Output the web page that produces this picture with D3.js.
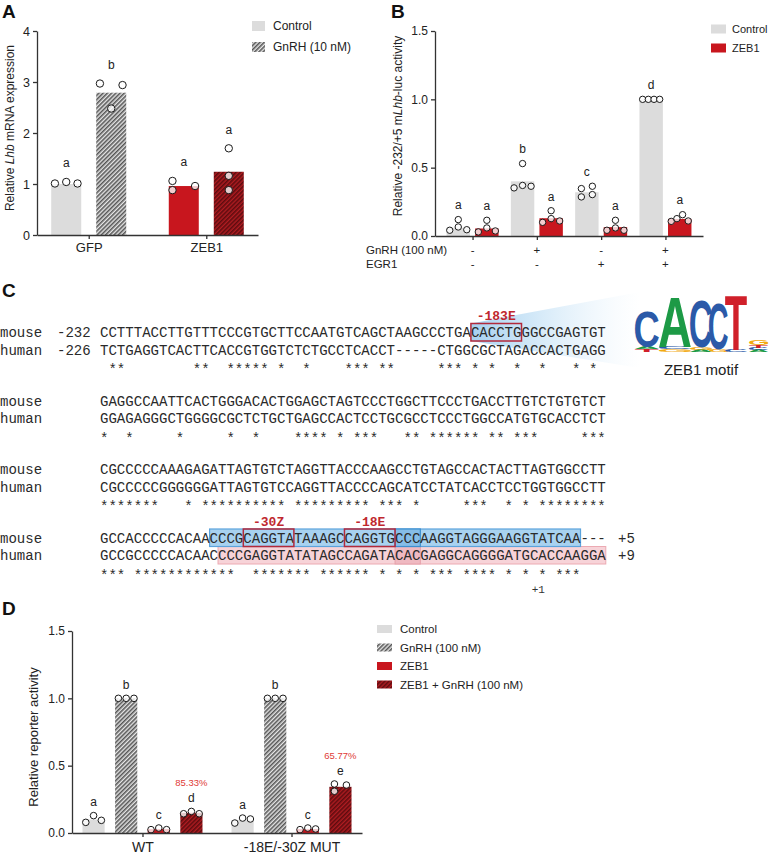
<!DOCTYPE html>
<html><head><meta charset="utf-8">
<script src="https://cdn.jsdelivr.net/npm/d3@7"></script>
<style>body{margin:0;background:#fff}svg{display:block}</style>
</head><body>
<svg id="fig" width="770" height="855" xmlns="http://www.w3.org/2000/svg"></svg>
<script>
// ================= DATA =================
// Panel A
const aGroups = ["GFP", "ZEB1"];
const aSeries = ["Control", "GnRH (10 nM)"];
const aMeans = [[1.00, 2.79], [0.96, 1.24]];
const aPoints = [
  [[1.01, 1.04, 1.01], [2.97, 2.48, 2.94]],
  [[1.06, 0.88, 0.96], [1.70, 1.16, 0.88]]
];
const aLetters = [["a", "b"], ["a", "a"]];
const aTicks = [0, 1, 2, 3, 4];

// Panel B
const bGroups = ["g1", "g2", "g3", "g4"];
const bSeries = ["Control", "ZEB1"];
const bGnRH = ["-", "+", "-", "+"];
const bEGR1 = ["-", "-", "+", "+"];
const bMeans = [[0.06, 0.055], [0.40, 0.13], [0.32, 0.065], [1.00, 0.125]];
const bPoints = [
  [[0.042, 0.12, 0.066, 0.046], [0.03, 0.115, 0.059, 0.037]],
  [[0.352, 0.53, 0.37, 0.364], [0.10, 0.185, 0.127, 0.11]],
  [[0.347, 0.286, 0.364, 0.303], [0.042, 0.115, 0.059, 0.042]],
  [[1.0, 1.0, 1.0, 1.0], [0.107, 0.127, 0.156, 0.11]]
];
const bLetters = [["a", "a"], ["b", "a"], ["c", "a"], ["d", "a"]];
const bTicks = [0, 0.5, 1.0, 1.5];

// Panel C
const seqMouse = [
  "CCTTTACCTTGTTTCCCGTGCTTCCAATGTCAGCTAAGCCCTGACACCTGGGCCGAGTGT",
  "GAGGCCAATTCACTGGGACACTGGAGCTAGTCCCTGGCTTCCCTGACCTTGTCTGTGTCT",
  "CGCCCCCAAAGAGATTAGTGTCTAGGTTACCCAAGCCTGTAGCCACTACTTAGTGGCCTT",
  "GCCACCCCCACAACCCGCAGGTATAAAGCCAGGTGCCCAAGGTAGGGAAGGTATCAA---"
];
const seqHuman = [
  "TCTGAGGTCACTTCACCGTGGTCTCTGCCTCACCT-----CTGGCGCTAGACCACTGAGG",
  "GGAGAGGGCTGGGGCGCTCTGCTGAGCCACTCCTGCGCCTCCCTGGCCATGTGCACCTCT",
  "CGCCCCCGGGGGGATTAGTGTCCAGGTTACCCCAGCATCCTATCACCTCCTGGTGGCCTT",
  "GCCGCCCCCACAACCCCGAGGTATATAGCCAGATACACGAGGCAGGGGATGCACCAAGGA"
];
const seqNames = ["mouse", "human"];
const seqStart = ["-232", "-226"];
const seqEnd = ["+5", "+9"];
const sites = [
  { label: "-183E", block: 0, start: 44, len: 6 },
  { label: "-30Z", block: 3, start: 17, len: 6 },
  { label: "-18E", block: 3, start: 29, len: 6 }
];
const mouseRegion = { block: 3, start: 13, end: 57 };
const humanRegion = { block: 3, start: 14, end: 60 };
const overlapRegion = { block: 3, start: 35, end: 38 };
const tssMark = { label: "+1", block: 3, col: 52 };
// ZEB1 motif logo: stacks bottom->top, [letter, bits]
const logoData = [
  [["T", 0.10], ["A", 0.07], ["C", 1.25]],
  [["G", 0.10], ["C", 0.07], ["A", 1.78]],
  [["A", 0.07], ["G", 0.07], ["C", 1.70]],
  [["G", 0.07], ["C", 1.64]],
  [["C", 0.07], ["T", 1.96]],
  [["A", 0.07], ["C", 0.07], ["T", 0.10], ["G", 0.20]]
];
const logoTitle = "ZEB1 motif";

// Panel D
const dGroups = ["WT", "-18E/-30Z MUT"];
const dSeries = ["Control", "GnRH (100 nM)", "ZEB1", "ZEB1 + GnRH (100 nM)"];
const dMeans = [[0.10, 1.00, 0.03, 0.15], [0.095, 1.00, 0.03, 0.343]];
const dPoints = [
  [[0.079, 0.129, 0.094], [1.0, 1.0, 1.0], [0.025, 0.037, 0.025], [0.143, 0.16, 0.143]],
  [[0.074, 0.111, 0.104], [1.0, 1.0, 1.0], [0.025, 0.037, 0.03], [0.364, 0.31, 0.356]]
];
const dLetters = [["a", "b", "c", "d"], ["a", "b", "c", "e"]];
const dPercent = ["85.33%", "65.77%"];
const dTicks = [0, 0.5, 1.0, 1.5];

// ================= STYLE =================
const SANS = "'Liberation Sans', Arial, Helvetica, sans-serif";
const MONO = "'Liberation Mono', 'Courier New', monospace";
const GRAY = "#dcdcdc", RED = "#c8161e";
const AX = "#333";

const svg = d3.select("#fig");
const defs = svg.append("defs");
function hatch(id, bg, fg, w) {
  const p = defs.append("pattern").attr("id", id).attr("patternUnits", "userSpaceOnUse")
    .attr("width", 3).attr("height", 3).attr("patternTransform", "rotate(45)");
  p.append("rect").attr("width", 3).attr("height", 3).attr("fill", bg);
  p.append("line").attr("x1", 0.8).attr("y1", -1).attr("x2", 0.8).attr("y2", 4)
    .attr("stroke", fg).attr("stroke-width", w);
}
hatch("hGray", "#e6e6e6", "#4a4a4a", 1.45);
hatch("hRed", "#b01c21", "#560a0d", 1.45);

function styleAxis(g, fs) {
  g.attr("font-family", SANS).attr("font-size", fs);
  g.select(".domain").attr("stroke", AX).attr("stroke-width", 1.3);
  g.selectAll(".tick line").attr("stroke", AX).attr("stroke-width", 1.3);
  g.selectAll(".tick text").attr("fill", "#222");
}

function swarmOffsets(vals, y, r, bw, cap, thrK) {
  const thr = 2 * r * thrK;
  const py = vals.map(v => y(v));
  const n = vals.length;
  const idx = d3.range(n).sort((a, b) => py[a] - py[b]);
  const clusters = []; let cur = [idx[0]];
  for (let k = 1; k < n; k++) {
    if (py[idx[k]] - py[idx[k - 1]] < thr) cur.push(idx[k]);
    else { clusters.push(cur); cur = [idx[k]]; }
  }
  clusters.push(cur);
  const off = new Array(n).fill(0);
  clusters.forEach(c => {
    const mem = c.slice().sort((a, b) => a - b);
    const cols = [], colOf = {};
    mem.forEach(i => {
      let ci = 0;
      while (true) {
        if (!cols[ci]) { cols[ci] = [i]; break; }
        if (cols[ci].every(j => Math.abs(py[j] - py[i]) >= thr)) { cols[ci].push(i); break; }
        ci++;
      }
      colOf[i] = ci;
    });
    const m = cols.length;
    const sp = m > 1 ? Math.min(cap, (bw - 2 * r) / (m - 1)) : 0;
    mem.forEach(i => off[i] = (colOf[i] - (m - 1) / 2) * sp);
  });
  return off;
}

function drawBars(g, cfg) {
  const { groups, series, means, points, letters, x, xin, y, fill, r, cap, thrK, letterGap } = cfg;
  const bw = xin.bandwidth();
  const y0 = y(0);
  groups.forEach((grp, gi) => {
    series.forEach((s, si) => {
      const bx = x(grp) + xin(s);
      const m = means[gi][si];
      g.append("rect").attr("x", bx).attr("y", y(m)).attr("width", bw)
        .attr("height", y0 - y(m)).attr("fill", fill(gi, si));
    });
  });
  groups.forEach((grp, gi) => {
    series.forEach((s, si) => {
      const bx = x(grp) + xin(s);
      const vals = points[gi][si];
      const offs = swarmOffsets(vals, y, r, bw, cap, thrK);
      g.selectAll(null).data(vals).enter().append("circle")
        .attr("cx", (d, i) => bx + bw / 2 + offs[i]).attr("cy", d => y(d)).attr("r", r)
        .attr("fill", "#fff").attr("fill-opacity", 0.78)
        .attr("stroke", "#1a1a1a").attr("stroke-width", 1);
      const top = Math.min(y(d3.max(vals)) - r, y(means[gi][si]));
      g.append("text").attr("x", bx + bw / 2).attr("y", top - letterGap)
        .attr("text-anchor", "middle").attr("font-family", SANS).attr("font-size", 12)
        .attr("fill", "#222").text(letters[gi][si]);
    });
  });
}

function panelLetter(t, x, y) {
  svg.append("text").attr("x", x).attr("y", y).attr("font-family", SANS)
    .attr("font-weight", "bold").attr("font-size", 19).attr("fill", "#111").text(t);
}

// ================= PANEL A =================
panelLetter("A", 2, 18);
const gA = svg.append("g");
const yA = d3.scaleLinear().domain([0, 4]).range([235, 31]);
const xA = d3.scalePoint().domain(aGroups).range([37, 258]).padding(0.44);
const xAin = d3.scaleBand().domain(aSeries).range([-37.5, 37.5]).paddingInner(1 / 3);
drawBars(gA, {
  groups: aGroups, series: aSeries, means: aMeans, points: aPoints, letters: aLetters,
  x: xA, xin: xAin, y: yA, r: 3.7, cap: 30, thrK: 1.08, letterGap: 11,
  fill: (gi, si) => gi === 0 ? (si === 0 ? GRAY : "url(#hGray)") : (si === 0 ? RED : "url(#hRed)")
});
gA.append("g").attr("transform", "translate(37,0)")
  .call(d3.axisLeft(yA).tickValues(aTicks).tickFormat(d3.format("d")).tickSize(4).tickPadding(3).tickSizeOuter(0))
  .call(g => styleAxis(g, 12.5));
gA.append("g").attr("transform", "translate(0,235)")
  .call(d3.axisBottom(xA).tickSize(4).tickPadding(4).tickSizeOuter(0))
  .call(g => styleAxis(g, 13));
{
  const t = gA.append("text").attr("transform", "translate(14,128) rotate(-90)")
    .attr("text-anchor", "middle").attr("font-family", SANS).attr("font-size", 12).attr("fill", "#222");
  t.append("tspan").text("Relative ");
  t.append("tspan").attr("font-style", "italic").text("Lhb");
  t.append("tspan").text(" mRNA expression");
}
// legend A
aSeries.forEach((s, i) => {
  const yy = 26 + i * 21;
  gA.append("rect").attr("x", 252).attr("y", yy - 5).attr("width", 13).attr("height", 10)
    .attr("fill", i === 0 ? GRAY : "url(#hGray)");
  gA.append("text").attr("x", 273).attr("y", yy + 4).attr("font-family", SANS).attr("font-size", 12)
    .attr("fill", "#222").text(s);
});

// ================= PANEL B =================
panelLetter("B", 391, 18);
const gB = svg.append("g");
const yB = d3.scaleLinear().domain([0, 1.5]).range([236, 31]);
const xB = d3.scalePoint().domain(bGroups).range([435, 703]).padding(0.584);
const xBin = d3.scaleBand().domain(bSeries).range([-26, 26]).paddingInner(0.18);
drawBars(gB, {
  groups: bGroups, series: bSeries, means: bMeans, points: bPoints, letters: bLetters,
  x: xB, xin: xBin, y: yB, r: 3.2, cap: 11, thrK: 1.06, letterGap: 7,
  fill: (gi, si) => si === 0 ? GRAY : RED
});
gB.append("g").attr("transform", "translate(435,0)")
  .call(d3.axisLeft(yB).tickValues(bTicks).tickFormat(d3.format(".1f")).tickSize(4).tickPadding(3).tickSizeOuter(0))
  .call(g => styleAxis(g, 12));
gB.append("g").attr("transform", "translate(0,236)")
  .call(d3.axisBottom(xB).tickSize(4).tickFormat("").tickSizeOuter(0))
  .call(g => styleAxis(g, 12));
{
  const t = gB.append("text").attr("transform", "translate(402,126) rotate(-90)")
    .attr("text-anchor", "middle").attr("font-family", SANS).attr("font-size", 12).attr("fill", "#222");
  t.append("tspan").text("Relative -232/+5 m");
  t.append("tspan").attr("font-style", "italic").text("Lhb");
  t.append("tspan").text("-luc activity");
}
[["GnRH (100 nM)", bGnRH, 254], ["EGR1", bEGR1, 268]].forEach(([lab, arr, yy]) => {
  gB.append("text").attr("x", 366).attr("y", yy).attr("font-family", SANS).attr("font-size", 11.5)
    .attr("fill", "#222").text(lab);
  bGroups.forEach((g, i) => gB.append("text").attr("x", xB(g)).attr("y", yy)
    .attr("text-anchor", "middle").attr("font-family", SANS).attr("font-size", 11.5)
    .attr("fill", "#222").text(arr[i]));
});
bSeries.forEach((s, i) => {
  const yy = 29 + i * 19;
  gB.append("rect").attr("x", 711).attr("y", yy - 4.5).attr("width", 15).attr("height", 9)
    .attr("fill", i === 0 ? GRAY : RED);
  gB.append("text").attr("x", 732).attr("y", yy + 4).attr("font-family", SANS).attr("font-size", 11)
    .attr("fill", "#222").text(s);
});

// ================= PANEL C =================
panelLetter("C", 2, 297);
const gC = svg.append("g");
const fs = 14.05, cw = fs * 0.6, X0 = 100;
const blockBase = b => 337 + b * 68.5;   // mouse row baseline
const LS = 17.5;
const colX = c => X0 + c * cw;

// fan + motif highlight
const grad = defs.append("linearGradient").attr("id", "fanGrad").attr("x1", 0).attr("x2", 1).attr("y1", 0).attr("y2", 0);
grad.append("stop").attr("offset", 0).attr("stop-color", "#8fc4ec").attr("stop-opacity", 0.8);
grad.append("stop").attr("offset", 0.35).attr("stop-color", "#a9d3f1").attr("stop-opacity", 0.55);
grad.append("stop").attr("offset", 1).attr("stop-color", "#d6ebfa").attr("stop-opacity", 0);
{
  const s = sites[0];
  const b0 = blockBase(s.block);
  const xl = colX(s.start), yt = b0 - 13.5, yb = b0 + 4;
  gC.append("polygon").attr("points", [[xl, yt], [640, 292], [640, 368], [xl, yb]].map(p => p.join(",")).join(" "))
    .attr("fill", "url(#fanGrad)");
}
// region highlights (block 3)
{
  const bm = blockBase(mouseRegion.block), bh = bm + LS;
  gC.append("rect").attr("x", colX(humanRegion.start)).attr("y", bh - 13.5)
    .attr("width", (humanRegion.end - humanRegion.start) * cw).attr("height", LS)
    .attr("fill", "#f7d3d8").attr("stroke", "#ecaab3").attr("stroke-width", 1);
  gC.append("rect").attr("x", colX(overlapRegion.start)).attr("y", bh - 13.5)
    .attr("width", (overlapRegion.end - overlapRegion.start) * cw).attr("height", LS)
    .attr("fill", "#efb9c1").attr("stroke", "#e6a0aa").attr("stroke-width", 1);
  gC.append("rect").attr("x", colX(mouseRegion.start)).attr("y", bm - 13.5)
    .attr("width", (mouseRegion.end - mouseRegion.start) * cw).attr("height", LS)
    .attr("fill", "#a8d2f0").attr("stroke", "#5ba3dc").attr("stroke-width", 1.2);
  gC.append("rect").attr("x", colX(overlapRegion.start)).attr("y", bm - 13.5)
    .attr("width", (overlapRegion.end - overlapRegion.start) * cw).attr("height", LS)
    .attr("fill", "#86bde8").attr("stroke", "#3d8fd0").attr("stroke-width", 1.2);
}
// sequence text
seqMouse.forEach((ms, b) => {
  const hs = seqHuman[b];
  const bm = blockBase(b);
  const stars = Array.from(ms).map((c, i) => (c !== "-" && c === hs[i]) ? "*" : " ").join("");
  [[ms, bm, 0], [hs, bm + LS, 1]].forEach(([s, yy, k]) => {
    gC.append("text").attr("x", 0).attr("y", yy).attr("font-family", MONO).attr("font-size", fs)
      .attr("fill", "#2a2a2a").text(seqNames[k]);
    if (b === 0) gC.append("text").attr("x", 57).attr("y", yy).attr("font-family", MONO).attr("font-size", fs)
      .attr("fill", "#2a2a2a").text(seqStart[k]);
    if (b === seqMouse.length - 1) gC.append("text").attr("x", 618).attr("y", yy).attr("font-family", MONO)
      .attr("font-size", fs).attr("fill", "#2a2a2a").text(seqEnd[k]);
    gC.append("text").attr("x", X0).attr("y", yy).attr("font-family", MONO).attr("font-size", fs)
      .attr("fill", "#2a2a2a").style("white-space", "pre").attr("xml:space", "preserve").text(s);
  });
  gC.append("text").attr("x", X0).attr("y", bm + 2 * LS + 2).attr("font-family", MONO).attr("font-size", fs)
    .attr("fill", "#2a2a2a").style("white-space", "pre").attr("xml:space", "preserve").text(stars);
});
// red site boxes + labels
sites.forEach(s => {
  const bm = blockBase(s.block);
  gC.append("rect").attr("x", colX(s.start)).attr("y", bm - 13.5).attr("width", s.len * cw).attr("height", LS)
    .attr("fill", "none").attr("stroke", "#b3293b").attr("stroke-width", 1.5);
  gC.append("text").attr("x", colX(s.start) + s.len * cw / 2).attr("y", bm - 17)
    .attr("text-anchor", "middle").attr("font-family", MONO).attr("font-weight", "bold")
    .attr("font-size", 13).attr("fill", "#c0282e").text(s.label);
});
gC.append("text").attr("x", colX(tssMark.col)).attr("y", blockBase(tssMark.block) + 2 * LS + 15)
  .attr("text-anchor", "middle").attr("font-family", MONO).attr("font-size", 11)
  .attr("fill", "#333").text(tssMark.label);

// logo
{
  const ctx = document.createElement("canvas").getContext("2d");
  ctx.font = "bold 100px 'Liberation Sans'";
  const ink = ch => {
    const m = ctx.measureText(ch);
    return { l: m.actualBoundingBoxLeft, r: m.actualBoundingBoxRight, a: m.actualBoundingBoxAscent, d: m.actualBoundingBoxDescent };
  };
  const colors = { A: "#1d9a46", C: "#2b5aa8", G: "#f2aa0f", T: "#d0202a" };
  const hScale = d3.scaleLinear().domain([0, 2]).range([0, 56]);
  const colEdges = [[635, 659], [659, 691], [690, 712], [709, 728], [725, 747], [749, 768]];
  const base = 352;
  logoData.forEach((stack, ci) => {
    let yb = base;
    const [x0, x1] = colEdges[ci];
    stack.forEach(([ch, bits]) => {
      const h = hScale(bits);
      const k = ink(ch);
      const sx = (x1 - x0) / (k.l + k.r), sy = h / (k.a + k.d);
      gC.append("text").attr("transform", `translate(${x0},${yb - h}) scale(${sx},${sy}) translate(${k.l},${k.a})`)
        .attr("font-family", "'Liberation Sans'").attr("font-weight", "bold").attr("font-size", 100)
        .attr("fill", colors[ch]).text(ch);
      yb -= h;
    });
  });
  gC.append("text").attr("x", 701).attr("y", 375).attr("text-anchor", "middle").attr("font-family", SANS)
    .attr("font-size", 15).attr("fill", "#222").text(logoTitle);
}

// ================= PANEL D =================
panelLetter("D", 2, 615);
const gD = svg.append("g");
const yD = d3.scaleLinear().domain([0, 1.5]).range([833, 631]);
const xD = d3.scalePoint().domain(dGroups).range([72, 362]).padding(0.473);
const xDin = d3.scaleBand().domain(dSeries).range([-60, 60]).paddingInner(0.32);
const dFill = [GRAY, "url(#hGray)", RED, "url(#hRed)"];
drawBars(gD, {
  groups: dGroups, series: dSeries, means: dMeans, points: dPoints, letters: dLetters,
  x: xD, xin: xDin, y: yD, r: 3.3, cap: 12, thrK: 1.1, letterGap: 6,
  fill: (gi, si) => dFill[si]
});
dGroups.forEach((g, gi) => {
  const bx = xD(g) + xDin(dSeries[3]) + xDin.bandwidth() / 2;
  const top = Math.min(yD(d3.max(dPoints[gi][3])) - 3.3, yD(dMeans[gi][3]));
  gD.append("text").attr("x", bx).attr("y", top - 22).attr("text-anchor", "middle")
    .attr("font-family", SANS).attr("font-size", 9.5).attr("fill", "#e03a36").text(dPercent[gi]);
});
gD.append("g").attr("transform", "translate(72,0)")
  .call(d3.axisLeft(yD).tickValues(dTicks).tickFormat(d3.format(".1f")).tickSize(4).tickPadding(3).tickSizeOuter(0))
  .call(g => styleAxis(g, 12));
gD.append("g").attr("transform", "translate(0,833)")
  .call(d3.axisBottom(xD).tickSize(4).tickPadding(5).tickSizeOuter(0))
  .call(g => styleAxis(g, 14));
gD.append("text").attr("transform", "translate(38,737) rotate(-90)").attr("text-anchor", "middle")
  .attr("font-family", SANS).attr("font-size", 13).attr("fill", "#222").text("Relative reporter activity");
dSeries.forEach((s, i) => {
  const yy = 629 + i * 18.5;
  gD.append("rect").attr("x", 377).attr("y", yy - 4).attr("width", 15).attr("height", 8).attr("fill", dFill[i]);
  gD.append("text").attr("x", 400).attr("y", yy + 4).attr("font-family", SANS).attr("font-size", 11.5)
    .attr("fill", "#222").text(s);
});
</script>
</body></html>
